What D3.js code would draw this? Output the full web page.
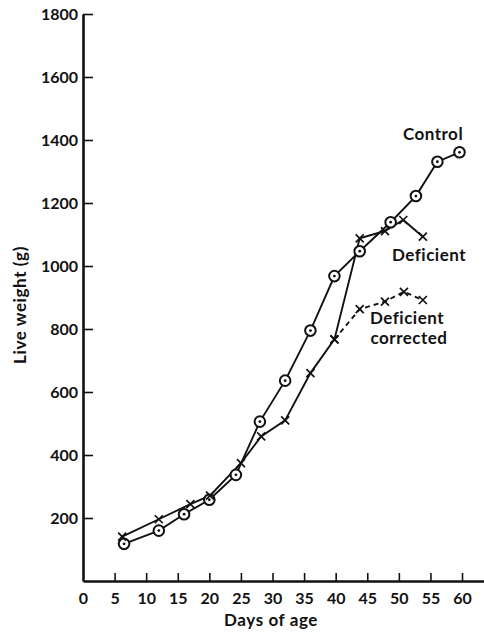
<!DOCTYPE html>
<html>
<head>
<meta charset="utf-8">
<script src="https://cdn.jsdelivr.net/npm/d3@7"></script>
<style>
	body { margin: 0; background: #fff; }
	text { font-family: Lato, "Open Sans", sans-serif; font-weight: 700; fill: #111; }
</style>
</head>
<body>
<svg id="chart" width="484" height="633"></svg>
<script>
// values
var controlDays = [6.5, 12, 16, 20, 24.2, 28, 32, 36, 39.8, 43.8, 48.7, 52.7, 56.1, 59.6];
var controlWeight = [118, 160, 212, 258, 337, 506, 636, 795, 968, 1047, 1139, 1222, 1331, 1361];

var deficientDays = [6.2, 12, 17, 20.1, 25, 28.2, 32, 36, 39.8, 43.8, 47.8, 50.7, 53.8];
var deficientWeight = [141, 196, 244, 271, 374, 459, 510, 660, 767, 1088, 1111, 1146, 1093];

var correctedDays = [39.8, 43.8, 47.8, 50.8, 53.8];
var correctedWeight = [767, 863, 887, 918, 892];

var xTicks = [0, 5, 10, 15, 20, 25, 30, 35, 40, 45, 50, 55, 60];
var yTicks = [200, 400, 600, 800, 1000, 1200, 1400, 1600, 1800];

var svg = d3.select('#chart');

var x = d3.scaleLinear().domain([0, 63.4]).range([83, 483.5]);
var y = d3.scaleLinear().domain([0, 1800]).range([581, 14]);

function pairs(days, weights){
	return days.map(function(d, i){ return [d, weights[i]]; });
}

var line = d3.line()
	.x(function(d){ return x(d[0]); })
	.y(function(d){ return y(d[1]); });

//axes
var xAxis = svg.append('g')
	.attr('transform', 'translate(0,' + y(0) + ')')
	.call(d3.axisBottom(x).tickValues(xTicks).tickFormat(d3.format('d')).tickSize(-8).tickSizeOuter(0).tickPadding(12));
var yAxis = svg.append('g')
	.attr('transform', 'translate(' + x(0) + ',0)')
	.call(d3.axisLeft(y).tickValues(yTicks).tickFormat(d3.format('d')).tickSize(-10).tickSizeOuter(0).tickPadding(16));

[xAxis, yAxis].forEach(function(a){
	a.select('.domain').attr('stroke', '#111').attr('stroke-width', 2.6);
	a.selectAll('.tick line').attr('stroke', '#111').attr('stroke-width', 1.6);
	a.selectAll('.tick text')
		.style('font-family', 'Lato, "Open Sans", sans-serif')
		.style('font-weight', 700)
		.style('font-size', '16px')
		.attr('fill', '#111');
});
yAxis.selectAll('.tick text').attr('x', -5).attr('dy', '0.36em');
xAxis.selectAll('.tick line').filter(function(d){ return d === 0; }).remove();

svg.append('text')
	.attr('x', 271)
	.attr('y', 626)
	.attr('text-anchor', 'middle')
	.style('font-size', '17px')
	.style('letter-spacing', '0.6px')
	.text('Days of age');

svg.append('text')
	.attr('transform', 'translate(26,305) rotate(-90)')
	.attr('text-anchor', 'middle')
	.style('font-size', '17px')
	.style('letter-spacing', '0.6px')
	.text('Live weight (g)');

//series lines
var series = [
	{name: 'control', data: pairs(controlDays, controlWeight), dash: null, marker: 'circle'},
	{name: 'deficient', data: pairs(deficientDays, deficientWeight), dash: null, marker: 'cross'},
	{name: 'corrected', data: pairs(correctedDays, correctedWeight), dash: '5,4', marker: 'cross'}
];

series.forEach(function(s){
	svg.append('path')
		.datum(s.data)
		.attr('fill', 'none')
		.attr('stroke', '#111')
		.attr('stroke-width', 1.9)
		.attr('stroke-dasharray', s.dash)
		.attr('d', line);
});

series.forEach(function(s){
	var g = svg.append('g').attr('class', s.name);
	var pts = g.selectAll('g').data(s.data).enter().append('g')
		.attr('transform', function(d){ return 'translate(' + x(d[0]) + ',' + y(d[1]) + ')'; });
	if (s.marker == 'circle'){
		pts.append('circle').attr('r', 5.3).attr('fill', '#fff').attr('stroke', '#111').attr('stroke-width', 2);
		pts.append('circle').attr('r', 1.4).attr('fill', '#111');
	}
	else {
		pts.append('path')
			.attr('d', 'M-4,-4L4,4M-4,4L4,-4')
			.attr('stroke', '#111')
			.attr('stroke-width', 1.7);
	}
});

//labels
var labels = [
	{text: 'Control', x: 433, y: 140},
	{text: 'Deficient', x: 429, y: 261},
	{text: 'Deficient', x: 407, y: 324},
	{text: 'corrected', x: 409, y: 344}
];
svg.selectAll('.lbl').data(labels).enter().append('text')
	.attr('class', 'lbl')
	.attr('x', function(d){ return d.x; })
	.attr('y', function(d){ return d.y; })
	.attr('text-anchor', 'middle')
	.style('font-size', '17px')
	.style('letter-spacing', '0.5px')
	.text(function(d){ return d.text; });
</script>
</body>
</html>
